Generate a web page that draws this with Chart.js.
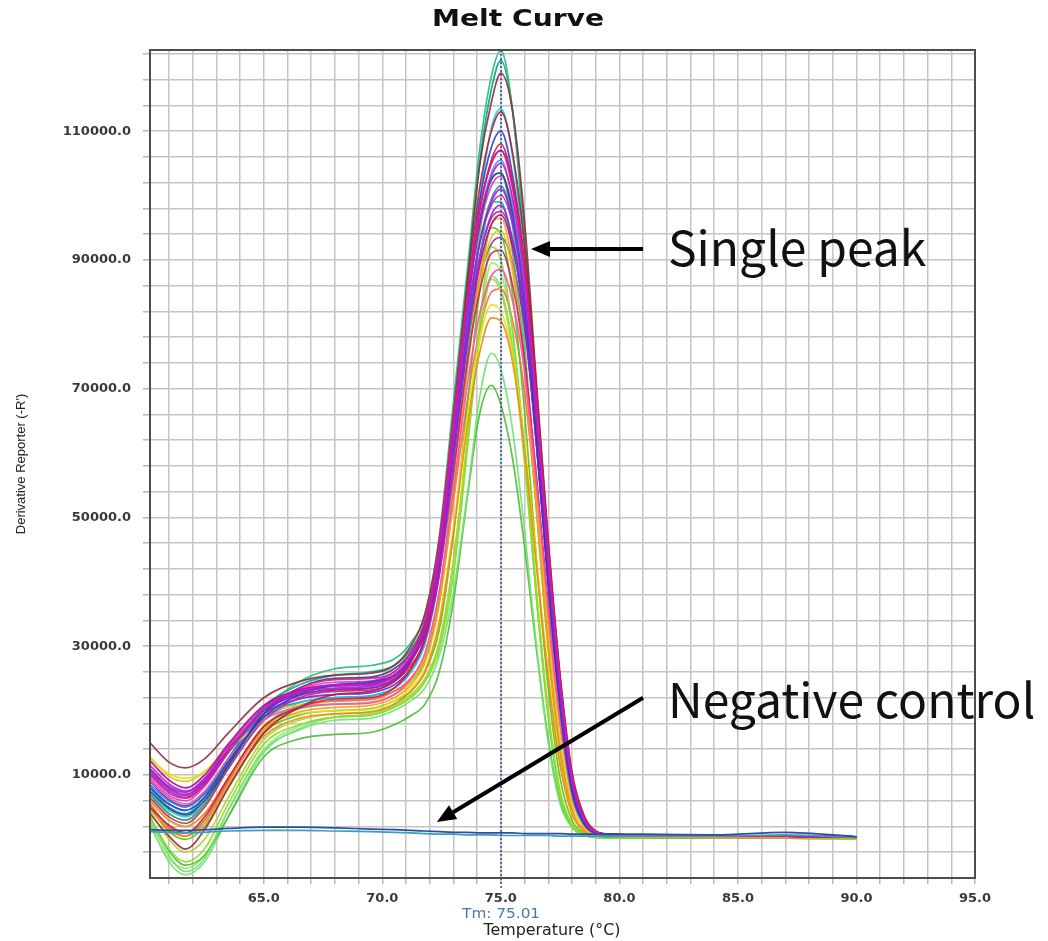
<!DOCTYPE html>
<html>
<head>
<meta charset="utf-8">
<title>Melt Curve</title>
<script src="https://cdn.jsdelivr.net/npm/chart.js@4.4.1/dist/chart.umd.min.js"></script>
<style>
  html, body { margin: 0; padding: 0; background: #fff; }
  #wrap { position: relative; width: 1048px; height: 941px; }
</style>
</head>
<body>
<div id="wrap"><canvas id="chart"></canvas></div>
<script>
// temperature points (°C) shared by every well
const TEMPS = [60.2, 61.0, 61.7, 62.5, 63.5, 65.0, 66.5, 68.0, 69.5, 70.5, 71.2, 71.8, 72.4, 73.0, 73.6,
  74.1, 74.6, 75.0, 75.5, 76.0, 76.5, 77.0, 77.5, 78.0, 78.5, 79.0, 79.6, 81.0, 84.0, 87.0, 90.0];

// derivative reporter (-R') per well, in thousands
const wellA01 = [11.5, 8.6, 7.5, 9.5, 14.5, 20.5, 23.0, 24.0, 24.2, 25.5, 28.5, 33.0, 44.5, 63.5, 83.5, 96.0, 103.0, 105.0, 99.5, 87.0, 67.0, 44.0, 24.0, 9.5, 3.2, 1.2, 0.8, 0.6, 0.5, 0.5, 0.4];
const wellA02 = [10.8, 8.0, 7.0, 9.0, 14.0, 20.0, 22.8, 23.5, 23.8, 25.0, 28.0, 32.5, 43.5, 61.5, 80.5, 92.5, 99.0, 101.0, 96.0, 84.0, 64.5, 42.0, 22.5, 8.8, 3.0, 1.1, 0.8, 0.6, 0.5, 0.5, 0.4];
const wellA03 = [10.0, 7.2, 6.4, 8.5, 13.5, 20.0, 23.5, 24.8, 25.0, 26.0, 29.0, 34.0, 46.0, 65.5, 85.0, 98.0, 105.0, 107.0, 101.0, 88.5, 68.0, 44.5, 24.0, 9.5, 3.2, 1.2, 0.8, 0.6, 0.5, 0.5, 0.4];
const wellA04 = [5.0, 2.2, 1.0, 3.5, 9.5, 17.5, 20.5, 21.8, 22.0, 23.5, 26.5, 31.5, 43.0, 63.0, 84.0, 97.5, 105.5, 108.0, 102.0, 89.5, 69.0, 45.5, 25.0, 10.0, 3.4, 1.2, 0.8, 0.6, 0.5, 0.5, 0.4];
const wellA05 = [15.0, 12.0, 11.1, 12.5, 16.5, 22.0, 24.5, 25.5, 25.8, 27.0, 30.0, 35.0, 46.5, 66.0, 87.0, 104.5, 114.5, 119.0, 113.0, 96.0, 71.0, 46.5, 25.5, 10.5, 3.8, 1.3, 0.8, 0.6, 0.5, 0.5, 0.4];
const wellA06 = [4.0, 0.5, -1.5, 1.5, 8.0, 16.5, 20.5, 22.5, 23.0, 24.5, 27.5, 32.5, 44.5, 65.0, 86.5, 101.0, 110.0, 113.0, 106.5, 92.0, 70.0, 46.0, 25.0, 9.8, 3.4, 1.2, 0.8, 0.6, 0.5, 0.5, 0.4];
const wellA07 = [8.0, 5.5, 4.5, 6.5, 12.0, 19.0, 22.5, 24.0, 24.5, 25.5, 28.0, 32.5, 43.5, 63.5, 84.5, 99.0, 107.5, 110.0, 103.0, 88.5, 66.0, 42.0, 21.5, 8.0, 2.6, 1.0, 0.7, 0.6, 0.5, 0.5, 0.4];
const wellA08 = [7.5, 4.8, 3.8, 6.0, 11.5, 19.5, 23.5, 25.0, 25.2, 26.5, 29.0, 33.5, 44.5, 63.5, 83.0, 95.5, 102.5, 103.5, 97.0, 83.5, 62.5, 40.0, 20.5, 7.5, 2.5, 1.0, 0.7, 0.6, 0.5, 0.5, 0.4];
const wellA09 = [10.2, 7.5, 6.5, 8.5, 13.5, 19.5, 21.8, 22.5, 22.8, 24.0, 26.5, 31.0, 41.5, 59.0, 78.0, 90.0, 97.0, 98.5, 93.0, 81.0, 61.5, 40.0, 21.0, 8.0, 2.7, 1.0, 0.7, 0.6, 0.5, 0.5, 0.4];
const wellA10 = [12.2, 9.2, 8.0, 10.0, 14.8, 20.8, 23.2, 24.0, 24.2, 25.5, 28.0, 32.0, 42.5, 59.5, 78.0, 89.0, 95.5, 97.0, 92.0, 80.5, 61.5, 40.0, 21.5, 8.2, 2.8, 1.1, 0.8, 0.6, 0.5, 0.5, 0.4];
const wellB01 = [9.2, 6.5, 5.5, 7.5, 12.5, 18.5, 20.5, 21.0, 21.2, 22.5, 25.0, 29.0, 38.5, 54.0, 71.0, 81.5, 87.5, 88.5, 83.5, 72.5, 55.0, 35.5, 19.0, 7.2, 2.4, 0.9, 0.7, 0.6, 0.5, 0.5, 0.4];
const wellB02 = [6.5, 3.5, 2.5, 5.0, 11.0, 18.5, 22.0, 23.0, 23.2, 24.5, 27.0, 31.0, 41.0, 57.0, 74.5, 85.0, 91.0, 91.5, 86.0, 74.5, 56.5, 36.5, 19.5, 7.4, 2.5, 0.9, 0.7, 0.6, 0.5, 0.5, 0.4];
const wellB03 = [6.0, 3.0, 2.0, 4.0, 9.5, 17.0, 19.8, 20.5, 20.8, 22.0, 24.0, 27.5, 36.5, 53.0, 73.5, 87.5, 95.5, 96.5, 89.0, 73.0, 51.0, 29.5, 13.5, 4.5, 1.5, 0.6, 0.5, 0.4, 0.3, 0.3, 0.2];
const wellB04 = [4.8, 1.5, 0.5, 2.5, 8.5, 16.0, 18.8, 19.5, 19.8, 21.0, 23.0, 26.0, 33.5, 47.5, 64.5, 75.5, 81.0, 80.5, 74.0, 60.5, 42.5, 25.0, 11.5, 4.0, 1.3, 0.6, 0.5, 0.4, 0.3, 0.3, 0.2];
const wellB05 = [12.5, 10.2, 9.5, 10.5, 14.0, 18.0, 19.5, 20.0, 20.2, 21.5, 23.5, 26.5, 34.0, 48.5, 66.0, 77.5, 83.0, 82.0, 75.0, 61.5, 43.5, 26.0, 12.0, 4.0, 1.4, 0.6, 0.5, 0.4, 0.3, 0.3, 0.2];
const wellB06 = [12.8, 9.8, 9.0, 10.5, 14.5, 19.5, 20.8, 21.0, 21.3, 22.5, 24.5, 28.5, 38.0, 54.5, 73.5, 86.0, 93.5, 94.5, 88.0, 73.5, 53.0, 32.0, 15.5, 5.5, 1.8, 0.7, 0.5, 0.4, 0.3, 0.3, 0.2];
const wellB07 = [7.0, 4.0, 3.0, 5.5, 11.5, 20.0, 24.5, 26.5, 27.0, 28.0, 30.5, 35.0, 47.0, 68.0, 89.0, 107.0, 118.5, 122.5, 113.0, 92.0, 66.0, 40.0, 19.5, 7.0, 2.3, 0.9, 0.6, 0.5, 0.3, 0.3, 0.2];
const wellB08 = [8.0, 5.0, 4.0, 6.5, 12.5, 20.5, 24.0, 25.5, 26.0, 27.0, 29.5, 34.0, 45.5, 66.0, 88.0, 105.0, 116.5, 121.0, 113.0, 94.0, 69.0, 44.0, 22.5, 8.5, 2.8, 1.0, 0.7, 0.5, 0.3, 0.3, 0.2];
const wellB09 = [7.2, 4.5, 3.5, 5.5, 11.0, 18.5, 21.2, 22.0, 22.3, 23.5, 26.0, 30.5, 41.5, 61.5, 83.5, 99.0, 110.5, 113.5, 106.0, 89.0, 65.0, 40.5, 20.5, 7.5, 2.4, 0.9, 0.6, 0.5, 0.3, 0.3, 0.2];
const wellB10 = [6.0, 3.0, 2.0, 4.0, 9.5, 17.5, 20.3, 21.0, 21.3, 22.5, 24.5, 28.0, 37.0, 54.5, 75.5, 90.0, 99.0, 99.0, 91.0, 74.5, 51.5, 29.5, 13.5, 4.5, 1.4, 0.6, 0.4, 0.3, 0.2, 0.2, 0.2];
const wellC01 = [3.5, -1.5, -3.5, -1.5, 5.5, 14.8, 17.8, 19.0, 19.3, 20.5, 22.0, 24.5, 29.5, 41.0, 61.0, 80.0, 92.0, 90.0, 79.0, 60.0, 38.0, 19.0, 7.0, 2.2, 0.8, 0.4, 0.3, 0.2, 0.2, 0.2, 0.1];
const wellC02 = [3.0, -2.5, -5.0, -3.0, 4.5, 13.8, 17.0, 18.5, 18.8, 20.0, 21.5, 23.5, 28.5, 38.5, 54.0, 68.5, 75.5, 73.0, 63.5, 48.0, 30.0, 15.0, 5.5, 1.8, 0.6, 0.3, 0.2, 0.2, 0.2, 0.2, 0.1];
const wellC03 = [3.5, -1.8, -4.0, -2.5, 3.5, 12.8, 15.6, 16.3, 16.6, 17.8, 19.2, 21.0, 26.0, 37.0, 53.5, 66.0, 70.5, 67.5, 59.0, 45.5, 29.5, 15.5, 6.0, 2.0, 0.7, 0.3, 0.2, 0.2, 0.2, 0.2, 0.1];
const wellC04 = [4.5, 0.0, -2.0, 0.0, 6.5, 15.5, 18.5, 19.5, 19.8, 21.0, 22.5, 25.0, 30.5, 43.5, 62.5, 78.0, 87.0, 85.0, 75.5, 58.5, 37.5, 19.5, 7.5, 2.4, 0.8, 0.4, 0.3, 0.2, 0.2, 0.2, 0.1];
const wellC05 = [5.0, 1.2, 0.0, 2.0, 8.0, 16.5, 19.3, 20.0, 20.3, 21.5, 23.0, 26.0, 32.5, 47.5, 68.0, 85.0, 95.0, 94.0, 84.5, 66.5, 43.5, 23.5, 9.5, 3.0, 1.0, 0.4, 0.3, 0.2, 0.2, 0.2, 0.1];
const wellC06 = [8.5, 6.0, 5.0, 7.0, 12.5, 19.0, 21.3, 22.0, 22.3, 23.5, 26.0, 30.5, 41.0, 59.5, 79.5, 92.5, 99.5, 101.5, 95.5, 82.0, 61.5, 39.5, 20.5, 7.6, 2.5, 0.9, 0.7, 0.6, 0.5, 0.5, 0.4];
const wellC07 = [5.5, 1.8, 0.5, 3.0, 9.0, 17.0, 20.5, 21.5, 21.7, 23.0, 25.0, 28.5, 37.5, 52.5, 68.5, 79.0, 85.0, 85.5, 80.5, 69.5, 52.0, 33.5, 17.5, 6.5, 2.2, 0.8, 0.6, 0.5, 0.4, 0.4, 0.3];
const wellC08 = [8.2, 5.5, 4.5, 6.5, 12.0, 19.0, 21.8, 22.5, 22.8, 24.0, 26.5, 31.0, 42.0, 61.5, 82.5, 96.0, 103.5, 105.5, 99.0, 85.0, 63.5, 41.0, 21.0, 7.8, 2.5, 0.9, 0.7, 0.6, 0.5, 0.5, 0.4];
const wellC09 = [2.5, -3.5, -5.5, -3.5, 3.5, 13.5, 17.2, 19.0, 19.5, 20.8, 22.3, 24.8, 30.5, 43.0, 62.0, 77.5, 87.5, 85.5, 76.5, 59.0, 37.5, 19.0, 7.0, 2.2, 0.8, 0.4, 0.3, 0.2, 0.2, 0.2, 0.1];
const wellC10 = [9.5, 6.8, 6.0, 8.2, 13.5, 20.2, 23.3, 24.4, 24.6, 26.0, 29.0, 33.5, 45.0, 64.0, 83.5, 95.0, 101.5, 103.0, 98.0, 86.0, 66.5, 43.5, 23.5, 9.2, 3.1, 1.2, 0.8, 0.6, 0.5, 0.5, 0.4];
const wellD01 = [10.5, 7.8, 6.8, 8.8, 13.8, 20.2, 23.0, 23.8, 24.0, 25.3, 28.3, 33.0, 44.5, 63.0, 81.5, 92.5, 98.5, 100.0, 95.5, 84.5, 65.5, 43.0, 23.5, 9.3, 3.1, 1.2, 0.8, 0.6, 0.5, 0.5, 0.4];
const wellD02 = [11.0, 8.2, 7.3, 9.2, 14.2, 20.0, 22.5, 23.2, 23.5, 24.8, 27.8, 32.3, 43.0, 60.0, 77.0, 87.0, 92.5, 93.5, 89.5, 79.5, 61.5, 40.5, 22.0, 8.6, 2.9, 1.1, 0.8, 0.6, 0.5, 0.5, 0.4];
const wellD03 = [7.0, 4.0, 3.0, 5.5, 11.5, 19.0, 22.3, 23.3, 23.5, 24.8, 27.8, 32.5, 43.5, 61.0, 79.5, 90.5, 96.5, 97.5, 93.0, 82.0, 63.5, 41.5, 22.5, 8.8, 3.0, 1.1, 0.8, 0.6, 0.5, 0.5, 0.4];
const wellD04 = [5.5, 2.0, 1.0, 3.0, 9.0, 17.5, 20.8, 21.5, 21.8, 23.0, 24.8, 28.5, 38.0, 56.0, 78.0, 94.0, 102.5, 103.5, 95.0, 77.0, 53.0, 30.5, 14.0, 4.6, 1.4, 0.5, 0.3, 0.2, 0.2, 0.2, 0.1];
const wellD05 = [2.0, -3.0, -4.5, -2.5, 4.5, 14.0, 17.6, 19.0, 19.3, 20.5, 22.0, 24.5, 30.0, 42.5, 62.0, 79.0, 89.5, 88.0, 78.5, 60.5, 39.0, 20.0, 7.5, 2.3, 0.8, 0.4, 0.3, 0.2, 0.2, 0.2, 0.1];
const wellD06 = [9.0, 6.2, 5.2, 7.2, 12.5, 19.5, 22.8, 24.0, 24.3, 25.5, 28.3, 33.0, 44.5, 64.0, 84.5, 97.5, 105.0, 107.0, 101.5, 88.0, 67.0, 43.5, 23.0, 8.8, 2.9, 1.1, 0.8, 0.6, 0.5, 0.5, 0.4];

// negative control wells
const ntc1 = [1.5, 1.4, 1.4, 1.5, 1.7, 1.9, 1.9, 1.8, 1.6, 1.5, 1.4, 1.3, 1.2, 1.1, 1.1, 1.0, 1.0, 1.0, 1.0, 0.9, 0.9, 0.9, 0.9, 0.8, 0.8, 0.8, 0.8, 0.8, 0.7, 1.1, 0.4];
const ntc2 = [1.2, 1.1, 1.0, 1.1, 1.3, 1.4, 1.4, 1.3, 1.2, 1.1, 1.0, 0.9, 0.8, 0.8, 0.7, 0.7, 0.7, 0.6, 0.6, 0.6, 0.6, 0.6, 0.5, 0.5, 0.5, 0.5, 0.5, 0.5, 0.5, 0.7, 0.3];

const WELLS = [wellA01, wellA02, wellA03, wellA04, wellA05, wellA06, wellA07, wellA08, wellA09, wellA10,
  wellB01, wellB02, wellB03, wellB04, wellB05, wellB06, wellB07, wellB08, wellB09, wellB10,
  wellC01, wellC02, wellC03, wellC04, wellC05, wellC06, wellC07, wellC08, wellC09, wellC10,
  wellD01, wellD02, wellD03, wellD04, wellD05, wellD06];
const NTC = [ntc1, ntc2];

const X_TICKS = [61, 62, 63, 64, 65, 66, 67, 68, 69, 70, 71, 72, 73, 74, 75, 76, 77, 78,
  79, 80, 81, 82, 83, 84, 85, 86, 87, 88, 89, 90, 91, 92, 93, 94, 95];
const X_LABELS = [65, 70, 75, 80, 85, 90, 95];
const Y_TICKS = [-2000, 2000, 6000, 10000, 14000, 18000, 22000, 26000, 30000, 34000, 38000, 42000,
  46000, 50000, 54000, 58000, 62000, 66000, 70000, 74000, 78000, 82000, 86000, 90000, 94000,
  98000, 102000, 106000, 110000, 114000, 118000, 122000];
const Y_LABELS = [10000, 30000, 50000, 70000, 90000, 110000];
const TM = 75.01;

const PALETTE = ["#c71ac7", "#9b1fd6", "#e01c84", "#dc143c", "#8b2e3e", "#a8203a", "#2344d8", "#22408f",
  "#8a2be2", "#b0009c", "#ff4fb0", "#cc2266", "#ff9a1a", "#f08a10", "#e2e21a", "#e8c410",
  "#1fbf78", "#00a08c", "#26c6d0", "#2eb87a", "#8edc26", "#6ee36e", "#4cbb3a", "#aad632",
  "#50c814", "#3a78c8", "#ff6655", "#5a8cff", "#7be07b", "#d040c0",
  "#c020b0", "#8e24c8", "#d0206a", "#3ccf5a", "#9be86a", "#5a3fd0"];
const NTC_COLORS = ["#2f4f9c", "#3a9ec4"];

// annotation anchors in data units (°C, -R')
const PEAK_NOTE = { text: "Single peak", x: 82.05, y: 89100, from: [81.0, 91700], to: [76.27, 91700] };
const NTC_NOTE = { text: "Negative control", x: 82.05, y: 18900, from: [81.0, 22000], to: [72.3, 2700] };

const toPoints = (vals) => TEMPS.map((t, i) => ({ x: t, y: vals[i] * 1000 }));

const datasets = [];
NTC.forEach((v, i) => datasets.push({
  data: toPoints(v), borderColor: NTC_COLORS[i], borderWidth: 1.7, order: 0,
}));
WELLS.forEach((v, i) => datasets.push({
  data: toPoints(v), borderColor: PALETTE[i] + "e6", borderWidth: 1.7, order: 1,
}));

function drawArrow(ctx, x1, y1, x2, y2) {
  const ang = Math.atan2(y2 - y1, x2 - x1);
  const len = 19, half = 8;
  const bx = x2 - len * Math.cos(ang), by = y2 - len * Math.sin(ang);
  ctx.strokeStyle = "#000";
  ctx.fillStyle = "#000";
  ctx.lineWidth = 4;
  ctx.beginPath();
  ctx.moveTo(x1, y1);
  ctx.lineTo(bx, by);
  ctx.stroke();
  ctx.beginPath();
  ctx.moveTo(x2, y2);
  ctx.lineTo(bx + half * Math.sin(ang), by - half * Math.cos(ang));
  ctx.lineTo(bx - half * Math.sin(ang), by + half * Math.cos(ang));
  ctx.closePath();
  ctx.fill();
}

// text stretched to a given width, like the exported figure
function wideText(ctx, str, cx, cy, width) {
  const w = ctx.measureText(str).width;
  ctx.save();
  ctx.translate(cx, cy);
  ctx.scale(width / w, 1);
  ctx.textAlign = "center";
  ctx.textBaseline = "middle";
  ctx.fillText(str, 0, 0);
  ctx.restore();
}

const overlay = {
  id: "overlay",
  afterDatasetsDraw(chart) {
    const { ctx, chartArea: a, scales: { x } } = chart;
    const tx = x.getPixelForValue(TM);
    ctx.save();
    ctx.strokeStyle = "#2b4f9e";
    ctx.lineWidth = 1.5;
    ctx.setLineDash([2, 2]);
    ctx.beginPath();
    ctx.moveTo(tx, a.top);
    ctx.lineTo(tx, a.bottom + 10);
    ctx.stroke();
    ctx.restore();
  },
  afterDraw(chart) {
    const { ctx, chartArea: a, scales: { x, y } } = chart;
    ctx.save();
    ctx.strokeStyle = "#4d4d4d";
    ctx.lineWidth = 2;
    ctx.strokeRect(a.left, a.top, a.right - a.left, a.bottom - a.top);

    // title
    ctx.fillStyle = "#111";
    ctx.font = "bold 23px 'DejaVu Sans'";
    wideText(ctx, "Melt Curve", 518, 20, 172);

    // Tm read-out and x axis title
    ctx.fillStyle = "#4a78b0";
    ctx.font = "14px 'DejaVu Sans'";
    wideText(ctx, "Tm: " + TM.toFixed(2), x.getPixelForValue(TM), a.bottom + 36, 78);
    ctx.fillStyle = "#222";
    ctx.font = "15px 'DejaVu Sans'";
    wideText(ctx, "Temperature (°C)", 552, a.bottom + 53, 137);

    for (const n of [PEAK_NOTE, NTC_NOTE]) {
      drawArrow(ctx, x.getPixelForValue(n.from[0]), y.getPixelForValue(n.from[1]),
        x.getPixelForValue(n.to[0]), y.getPixelForValue(n.to[1]));
      ctx.fillStyle = "#111";
      ctx.font = "48px 'Noto Sans CJK SC'";
      ctx.textAlign = "left";
      ctx.textBaseline = "alphabetic";
      ctx.fillText(n.text, x.getPixelForValue(n.x), y.getPixelForValue(n.y));
    }
    ctx.restore();
  },
};

Chart.defaults.font.family = "'DejaVu Sans', sans-serif";

new Chart(document.getElementById("chart"), {
  type: "line",
  data: { datasets },
  plugins: [overlay],
  options: {
    responsive: true,
    maintainAspectRatio: false,
    animation: false,
    layout: { padding: { left: 10, right: 73, top: 50, bottom: 0 } },
    elements: {
      point: { radius: 0 },
      line: { cubicInterpolationMode: "monotone", fill: false },
    },
    plugins: {
      legend: { display: false },
      tooltip: { enabled: false },
      title: { display: false },
    },
    scales: {
      x: {
        type: "linear", min: 60.2, max: 95,
        afterBuildTicks: (s) => { s.ticks = X_TICKS.map((v) => ({ value: v })); },
        afterFit: (s) => { s.height = 63; },
        border: { display: false },
        grid: { color: "#c4c4c4", lineWidth: 1.5, tickLength: 6, tickColor: "#b8b8b8" },
        ticks: {
          autoSkip: false, maxRotation: 0, padding: 7, color: "#3a3a3a",
          font: { size: 13, weight: "bold" },
          callback: (v) => (X_LABELS.includes(v) ? v.toFixed(1) : ""),
        },
      },
      y: {
        type: "linear", min: -6000, max: 122600,
        afterBuildTicks: (s) => { s.ticks = Y_TICKS.map((v) => ({ value: v })); },
        afterFit: (s) => { s.width = 140; },
        border: { display: false },
        grid: { color: "#c4c4c4", lineWidth: 1.5, tickLength: 7, tickColor: "#b8b8b8" },
        ticks: {
          autoSkip: false, padding: 12, color: "#3a3a3a",
          font: { size: 13, weight: "bold" },
          callback: (v) => (Y_LABELS.includes(v) ? v.toFixed(1) : ""),
        },
        title: {
          display: true, text: "Derivative Reporter (-R')", color: "#222",
          font: { size: 13, family: "'Liberation Sans', sans-serif" },
          padding: { top: 4, bottom: 4 },
        },
      },
    },
  },
});
</script>
</body>
</html>
